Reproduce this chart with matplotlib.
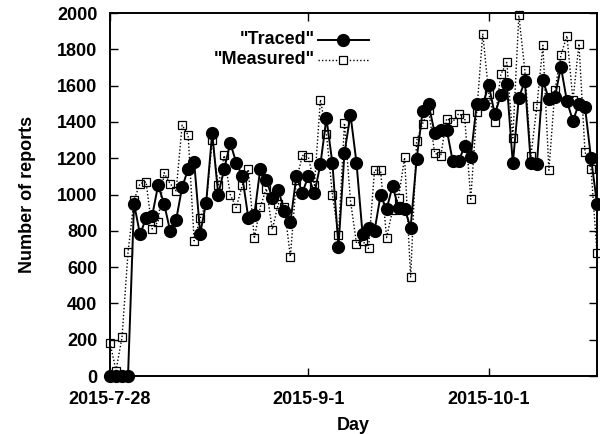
import matplotlib
matplotlib.use("Agg")
import matplotlib.pyplot as plt

# Data (one point per day, day index from the first day)
traced = [0, 0, 0, 0, 950, 780, 870, 880, 1050, 950,
          800, 860, 1040, 1140, 1180, 785, 955, 1340, 1000, 1140,
          1284, 1176, 1101, 873, 886, 1143, 1079, 982, 1024, 910,
          846, 1101, 1011, 1101, 1006, 1167, 1420, 1171, 712, 1230,
          1440, 1174, 785, 813, 800, 996, 919, 1046, 928, 922,
          817, 1193, 1460, 1497, 1339, 1358, 1358, 1185, 1185, 1268,
          1205, 1501, 1497, 1602, 1442, 1547, 1611, 1171, 1534, 1624,
          1171, 1167, 1629, 1527, 1538, 1703, 1514, 1406, 1501, 1483,
          1202, 950]
measured = [183, 30, 213, 681, 970, 1060, 1070, 810, 850, 1120,
            1060, 1020, 1382, 1327, 745, 868, 950, 1299, 1050, 1215,
            1000, 928, 1051, 1138, 758, 932, 1033, 807, 950, 932,
            657, 1079, 1215, 1207, 1051, 1523, 1336, 996, 776, 1394,
            965, 730, 745, 703, 1134, 1134, 763, 913, 983, 1204,
            543, 1295, 1391, 1464, 1229, 1211, 1418, 1400, 1446, 1424,
            974, 1457, 1886, 1556, 1400, 1662, 1728, 1312, 1987, 1684,
            1211, 1486, 1822, 1134, 1574, 1767, 1875, 1519, 1831, 1235,
            1143, 680]
days = list(range(len(traced)))

tick_pos = [0, 33, 63]
tick_labels = ["2015-7-28", "2015-9-1", "2015-10-1"]
y_ticks = list(range(0, 2001, 200))

plt.rcParams['font.family'] = ['Liberation Sans', 'DejaVu Sans']
plt.rcParams['font.weight'] = 'bold'

fig = plt.figure(figsize=(6, 4.34), dpi=100)
ax = fig.add_axes([0.1833, 0.1336, 0.8117, 0.8364])

ax.plot(days, traced, color='black', lw=1.4, marker='o', ms=8.5,
        clip_on=False, zorder=3)
ax.plot(days, measured, color='black', lw=1.0, ls=(0, (1, 1.5)),
        marker='s', ms=6.3, mfc='none', mew=0.9, clip_on=False, zorder=4)

ax.set_xlim(0, 81)
ax.set_ylim(0, 2000)
ax.set_xticks(tick_pos)
ax.set_xticklabels(tick_labels)
ax.set_yticks(y_ticks)
ax.tick_params(direction='in', length=6, width=1.0, top=True, right=True,
               labelsize=13)
ax.tick_params(axis='x', pad=11)
ax.tick_params(axis='y', pad=9)
for s in ax.spines.values():
    s.set_linewidth(1.4)

ax.set_xlabel("Day", fontsize=13, fontweight='bold', labelpad=6)
ax.set_ylabel("Number of reports", fontsize=13, fontweight='bold', labelpad=15)

# key, gnuplot style (text right aligned, sample on the right)
ax.text(0.421, 0.926, '"Traced"', transform=ax.transAxes, ha='right',
        va='center', fontsize=13, fontweight='bold')
ax.text(0.421, 0.871, '"Measured"', transform=ax.transAxes, ha='right',
        va='center', fontsize=13, fontweight='bold')
ax.plot([0.427, 0.532], [0.926, 0.926], transform=ax.transAxes,
        color='black', lw=1.4)
ax.plot([0.479], [0.926], transform=ax.transAxes, color='black',
        marker='o', ms=8.5)
ax.plot([0.427, 0.532], [0.871, 0.871], transform=ax.transAxes,
        color='black', lw=1.0, ls=(0, (1, 1.5)))
ax.plot([0.479], [0.871], transform=ax.transAxes, color='black',
        marker='s', ms=6.3, mfc='white', mew=0.9)

fig.savefig("out.png", dpi=100)
